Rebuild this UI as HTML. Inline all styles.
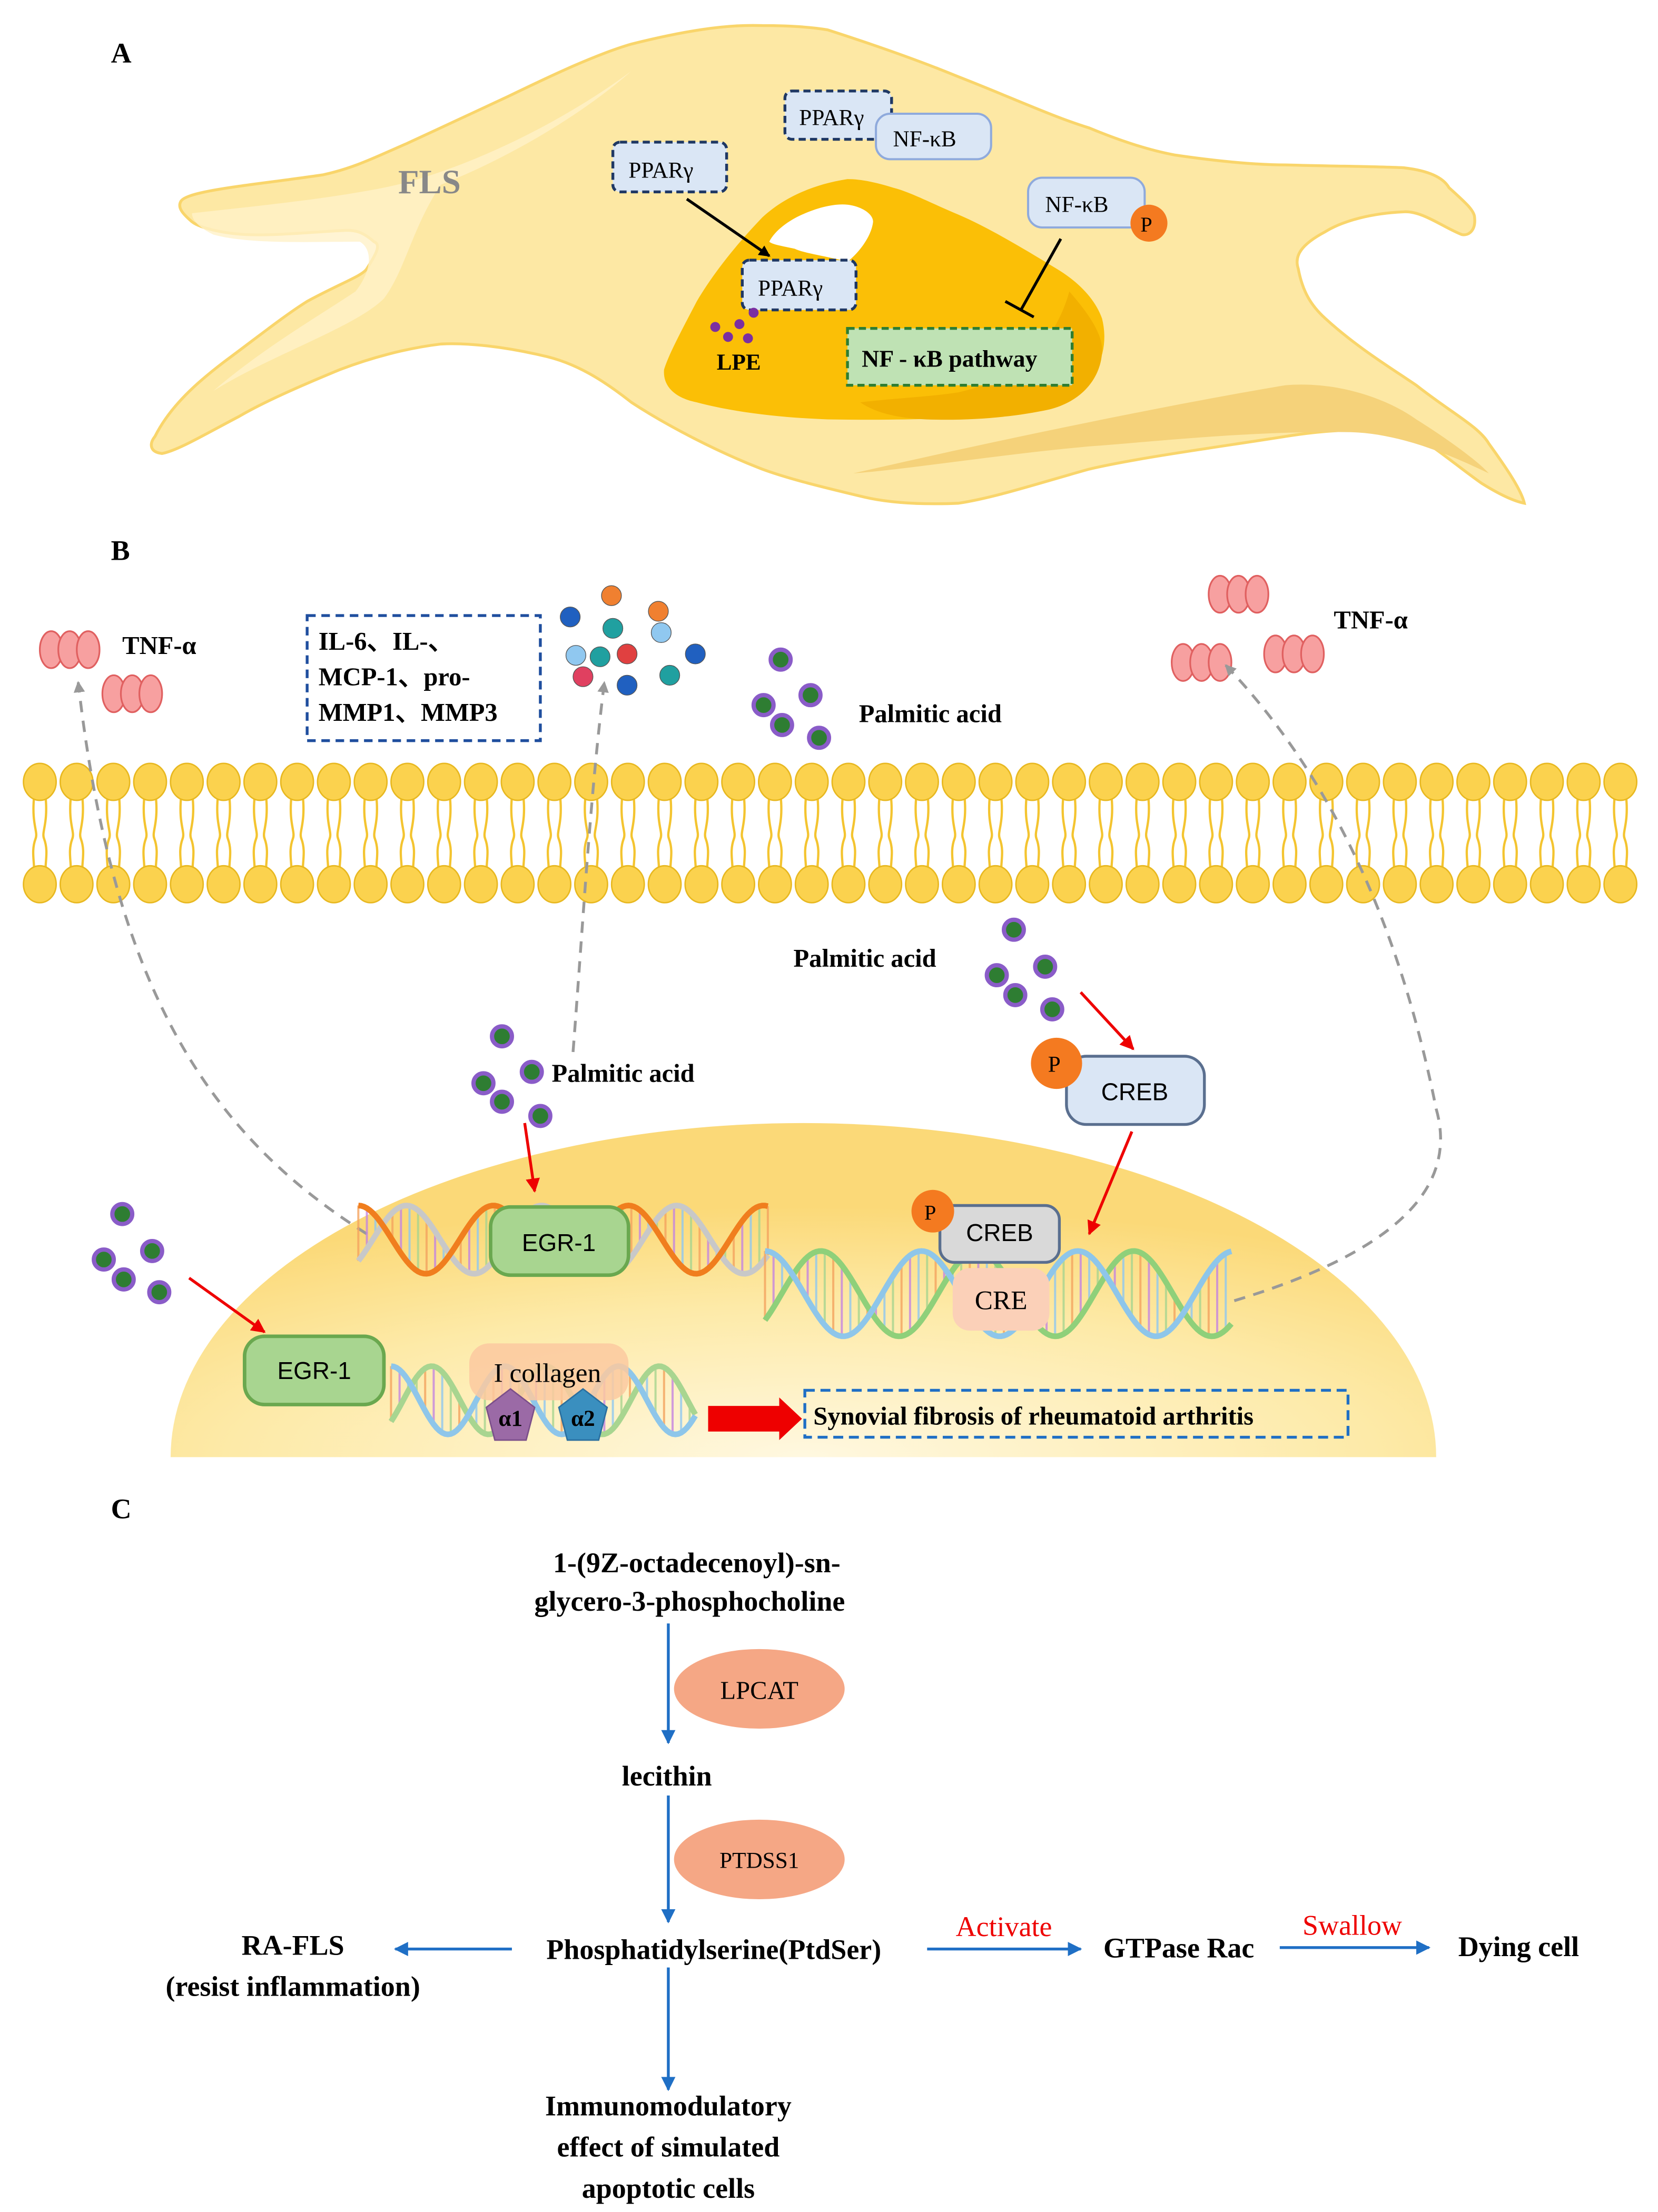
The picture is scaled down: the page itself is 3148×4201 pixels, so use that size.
<!DOCTYPE html>
<html><head><meta charset="utf-8"><style>
html,body{margin:0;padding:0;background:#fff;}
svg{display:block;}
text{font-family:"Liberation Serif",serif;}
.b{font-weight:bold;}
</style></head><body>
<svg id="s" xmlns="http://www.w3.org/2000/svg" width="3148" height="4201" viewBox="0 0 1166 1556" preserveAspectRatio="none">
<defs>
<radialGradient id="ng" cx="0.5" cy="1" r="0.75">
<stop offset="0" stop-color="#fff8e0"/><stop offset="0.6" stop-color="#fdeaa8"/><stop offset="1" stop-color="#fbd978"/>
</radialGradient>
<marker id="ab" markerWidth="8" markerHeight="8" refX="7" refY="4" orient="auto" markerUnits="userSpaceOnUse"><path d="M0,0 L8,4 L0,8 z" fill="#000"/></marker>
<marker id="ar" markerWidth="10" markerHeight="10" refX="9" refY="5" orient="auto" markerUnits="userSpaceOnUse"><path d="M0,0 L10,5 L0,10 z" fill="#e00"/></marker>
<marker id="au" markerWidth="10" markerHeight="10" refX="9" refY="5" orient="auto" markerUnits="userSpaceOnUse"><path d="M0,0 L10,5 L0,10 z" fill="#1f6fc5"/></marker>
<marker id="ag" markerWidth="8" markerHeight="8" refX="7" refY="4" orient="auto" markerUnits="userSpaceOnUse"><path d="M0,0 L8,4 L0,8 z" fill="#999"/></marker>
</defs>

<!-- Panel A -->
<text x="78" y="44" class="b" font-size="20">A</text>
<path d="M127,142 C130,134 180,130 227,123 C250,118 265,110 286,101 C310,90 335,78 357,68 C390,52 420,38 444,31 C480,22 510,17 536,18 C555,18 570,19 582,21 C610,30 645,42 674,54 C710,68 740,82 766,90 C790,100 810,106 826,109 C860,114 885,116 904,116 C940,117 965,117 987,118 C1005,120 1015,125 1019,132 C1030,142 1037,148 1037,153 C1038,162 1033,166 1028,165 C1015,160 1000,148 987,149 C965,150 945,155 932,163 C915,172 910,180 913,189 C916,205 922,215 932,224 C955,245 980,260 996,271 C1020,290 1040,300 1047,312 C1060,330 1070,345 1072,354 C1062,352 1050,345 1042,340 C1025,328 1010,315 996,307 C970,300 935,302 904,307 C860,314 800,322 766,330 C730,340 700,350 674,354 C650,355 625,354 605,349 C580,343 555,337 536,330 C505,318 470,300 444,283 C425,268 405,255 381,250 C355,244 330,241 310,242 C285,245 260,252 239,260 C210,272 185,283 168,293 C145,305 125,317 114,319 C105,318 105,312 109,307 C120,285 140,268 157,255 C180,238 200,222 216,212 C240,199 255,194 258,189 C265,178 268,172 263,170 C255,163 250,162 244,162 C220,163 195,166 173,165 C155,164 140,160 135,156 C128,150 125,146 127,142 Z" fill="#fde8a4" stroke="#f9d56b" stroke-width="2"/>
<path d="M135,150 C180,145 230,140 270,132 C320,122 390,90 444,50 C410,80 360,110 310,130 C290,160 285,190 270,210 C250,230 190,250 150,275 C185,245 220,225 250,205 C262,190 262,175 253,170 C220,170 175,172 150,165 C140,160 135,155 135,150 Z" fill="#fff1c8" opacity="0.8"/>
<path d="M600,333 C700,310 820,285 904,271 C940,268 975,280 996,295 C1020,310 1040,325 1047,333 C1020,320 985,305 950,304 C880,303 820,310 766,314 C700,320 640,330 600,333 Z" fill="#f5d27a"/>
<text x="280" y="136" class="b" font-size="24" fill="#888">FLS</text>
<path d="M596,126 C570,130 550,140 536,153 C515,175 500,195 490,212 C478,235 470,250 467,260 C466,272 475,280 490,283 C520,291 555,294 582,295 C640,296 690,294 720,290 C748,285 765,275 771,260 C777,248 778,236 775,224 C770,210 758,198 743,189 C720,175 695,160 674,151 C655,143 640,135 628,132 C615,128 605,126 596,126 Z" fill="#fbbf06"/>
<path d="M752,205 C765,220 776,235 775,248 C774,265 762,282 738,288 C710,294 680,296 651,295 C630,294 615,290 605,283 C630,280 655,279 674,276 C700,270 718,260 729,248 C740,235 748,220 752,205 Z" fill="#f2b000"/>
<path d="M596,144 C605,145 614,150 614,156 C613,166 604,178 596,184 C580,180 565,178 559,175 C550,173 543,172 541,170 C545,162 555,155 564,151 C575,146 587,143 596,144 Z" fill="#fff"/>
<rect x="552" y="64" width="75" height="34" rx="5" fill="#dae6f5" stroke="#1f3864" stroke-width="2" stroke-dasharray="5,3"/>
<text x="562" y="88" font-size="16">PPARγ</text>
<rect x="616" y="80" width="81" height="32" rx="10" fill="#dae6f5" stroke="#8faadc" stroke-width="1.5"/>
<text x="628" y="103" font-size="16">NF-κB</text>
<rect x="431" y="100" width="80" height="35" rx="5" fill="#dae6f5" stroke="#1f3864" stroke-width="2" stroke-dasharray="5,3"/>
<text x="442" y="125" font-size="16">PPARγ</text>
<line x1="483" y1="140" x2="541" y2="180" stroke="#000" stroke-width="2" marker-end="url(#ab)"/>
<rect x="522" y="183" width="80" height="35" rx="5" fill="#dae6f5" stroke="#1f3864" stroke-width="2" stroke-dasharray="5,3"/>
<text x="533" y="208" font-size="16">PPARγ</text>
<g fill="#7b2fa1"><circle cx="530" cy="220" r="3.5"/><circle cx="520" cy="228" r="3.5"/><circle cx="526" cy="238" r="3.5"/><circle cx="512" cy="237" r="3.5"/><circle cx="503" cy="230" r="3.5"/></g>
<text x="504" y="260" class="b" font-size="16">LPE</text>
<rect x="723" y="125" width="82" height="35" rx="10" fill="#dae6f5" stroke="#8faadc" stroke-width="1.5"/>
<text x="735" y="149" font-size="16">NF-κB</text>
<circle cx="808" cy="157" r="13" fill="#f47a20"/><text x="802" y="163" font-size="15">P</text>
<line x1="746" y1="168" x2="718" y2="218" stroke="#000" stroke-width="2"/>
<line x1="707" y1="212" x2="727" y2="223" stroke="#000" stroke-width="2"/>
<rect x="596" y="231" width="158" height="40" fill="#bfe2b4" stroke="#2e7d32" stroke-width="2" stroke-dasharray="5,3"/>
<text x="606" y="258" class="b" font-size="17">NF - κB pathway</text>

<!-- Panel B -->
<text x="78" y="394" class="b" font-size="20">B</text>
<g id="mem"></g>
<path d="M120,1025 A445,235 0 0 1 1010,1025 Z" fill="url(#ng)"/>
<g id="tnf"></g>
<text x="86" y="460" class="b" font-size="18">TNF-α</text>
<text x="938" y="442" class="b" font-size="18">TNF-α</text>
<rect x="216" y="433" width="164" height="88" fill="none" stroke="#1f4e9e" stroke-width="2" stroke-dasharray="6,4"/>
<text x="224" y="457" class="b" font-size="18">IL-6、IL-、</text>
<text x="224" y="482" class="b" font-size="18">MCP-1、pro-</text>
<text x="224" y="507" class="b" font-size="18">MMP1、MMP3</text>
<g stroke="#555" stroke-width="0.5">
<circle cx="430" cy="419" r="7" fill="#f08030"/><circle cx="463" cy="430" r="7" fill="#f08030"/><circle cx="401" cy="434" r="7" fill="#2060c0"/>
<circle cx="431" cy="442" r="7" fill="#20a0a0"/><circle cx="465" cy="445" r="7" fill="#90c8f0"/><circle cx="405" cy="461" r="7" fill="#90c8f0"/>
<circle cx="422" cy="462" r="7" fill="#20a0a0"/><circle cx="441" cy="460" r="7" fill="#e04040"/><circle cx="489" cy="460" r="7" fill="#2060c0"/>
<circle cx="410" cy="476" r="7" fill="#e04060"/><circle cx="441" cy="482" r="7" fill="#2060c0"/><circle cx="471" cy="475" r="7" fill="#20a0a0"/>
</g>
<g id="pa"></g>
<text x="604" y="508" class="b" font-size="18">Palmitic acid</text>
<text x="558" y="680" class="b" font-size="18">Palmitic acid</text>
<text x="388" y="761" class="b" font-size="18">Palmitic acid</text>
<g fill="none" stroke="#999" stroke-width="2" stroke-dasharray="8,6">
<path d="M258,868 C150,800 80,700 55,480" marker-end="url(#ag)"/>
<path d="M403,740 C410,650 415,560 425,480" marker-end="url(#ag)"/>
<path d="M868,915 C950,890 1030,850 1010,780 C990,680 950,560 862,468" marker-end="url(#ag)"/>
</g>
<g stroke="#e00" stroke-width="2" fill="none">
<line x1="369" y1="790" x2="376" y2="838" marker-end="url(#ar)"/>
<line x1="133" y1="899" x2="186" y2="937" marker-end="url(#ar)"/>
<line x1="760" y1="698" x2="797" y2="738" marker-end="url(#ar)"/>
<line x1="796" y1="796" x2="766" y2="868" marker-end="url(#ar)"/>
</g>
<g id="dna"></g>
<rect x="345" y="849" width="97" height="48" rx="14" fill="#a8d590" stroke="#6aa84f" stroke-width="2.5"/>
<text x="393" y="880" text-anchor="middle" font-size="17" style="font-family:'Liberation Sans',sans-serif">EGR-1</text>
<rect x="172" y="940" width="98" height="48" rx="14" fill="#a8d590" stroke="#6aa84f" stroke-width="2.5"/>
<text x="221" y="970" text-anchor="middle" font-size="17" style="font-family:'Liberation Sans',sans-serif">EGR-1</text>
<rect x="750" y="743" width="97" height="48" rx="14" fill="#dae6f5" stroke="#5a6f8f" stroke-width="2"/>
<text x="798" y="774" text-anchor="middle" font-size="17" style="font-family:'Liberation Sans',sans-serif">CREB</text>
<circle cx="743" cy="748" r="18" fill="#f47a20"/><text x="737" y="754" font-size="16">P</text>
<rect x="661" y="848" width="84" height="40" rx="10" fill="#d9d9d9" stroke="#5a6f8f" stroke-width="2"/>
<text x="703" y="873" text-anchor="middle" font-size="17" style="font-family:'Liberation Sans',sans-serif">CREB</text>
<circle cx="656" cy="852" r="15" fill="#f47a20"/><text x="650" y="858" font-size="15">P</text>
<rect x="670" y="892" width="68" height="44" rx="12" fill="#fbd0b8"/>
<text x="704" y="921" text-anchor="middle" font-size="19">CRE</text>
<rect x="330" y="945" width="112" height="40" rx="14" fill="#fbc9a0" opacity="0.85"/>
<text x="385" y="972" text-anchor="middle" font-size="19">I collagen</text>
<polygon points="359,977 376,990 370,1013 348,1013 342,990" fill="#9b6aa6" stroke="#7b4f8a"/>
<text x="359" y="1003" text-anchor="middle" class="b" font-size="16">α1</text>
<polygon points="410,977 427,990 421,1013 399,1013 393,990" fill="#3a8fbf" stroke="#2a6f9f"/>
<text x="410" y="1003" text-anchor="middle" class="b" font-size="16">α2</text>
<polygon points="498,989 548,989 548,983 564,998 548,1013 548,1007 498,1007" fill="#e00"/>
<rect x="566" y="978" width="382" height="33" fill="none" stroke="#1f6fc5" stroke-width="2" stroke-dasharray="7,4"/>
<text x="572" y="1002" class="b" font-size="18">Synovial fibrosis of rheumatoid arthritis</text>

<!-- Panel C -->
<text x="78" y="1068" class="b" font-size="20">C</text>
<g class="b" font-size="20" text-anchor="middle" style="font-weight:bold">
<text x="490" y="1106">1-(9Z-octadecenoyl)-sn-</text>
<text x="485" y="1133">glycero-3-phosphocholine</text>
<text x="469" y="1256">lecithin</text>
<text x="502" y="1378">Phosphatidylserine(PtdSer)</text>
<text x="206" y="1375">RA-FLS</text>
<text x="206" y="1404">(resist inflammation)</text>
<text x="829" y="1377">GTPase Rac</text>
<text x="1068" y="1376">Dying cell</text>
<text x="470" y="1488">Immunomodulatory</text>
<text x="470" y="1517">effect of simulated</text>
<text x="470" y="1546">apoptotic cells</text>
</g>
<ellipse cx="534" cy="1188" rx="60" ry="28" fill="#f5a785"/>
<text x="534" y="1195" text-anchor="middle" font-size="18">LPCAT</text>
<ellipse cx="534" cy="1308" rx="60" ry="28" fill="#f5a785"/>
<text x="534" y="1314" text-anchor="middle" font-size="16">PTDSS1</text>
<g stroke="#1f6fc5" stroke-width="2">
<line x1="470" y1="1142" x2="470" y2="1226" marker-end="url(#au)"/>
<line x1="470" y1="1263" x2="470" y2="1352" marker-end="url(#au)"/>
<line x1="360" y1="1371" x2="278" y2="1371" marker-end="url(#au)"/>
<line x1="652" y1="1371" x2="760" y2="1371" marker-end="url(#au)"/>
<line x1="900" y1="1370" x2="1005" y2="1370" marker-end="url(#au)"/>
<line x1="470" y1="1384" x2="470" y2="1470" marker-end="url(#au)"/>
</g>
<text x="706" y="1362" text-anchor="middle" font-size="20" fill="#e00">Activate</text>
<text x="951" y="1361" text-anchor="middle" font-size="20" fill="#e00">Swallow</text>
</svg>
<script>
var NS="http://www.w3.org/2000/svg";
function el(p,t,a){var e=document.createElementNS(NS,t);for(var k in a)e.setAttribute(k,a[k]);p.appendChild(e);return e;}
var mem=document.getElementById("mem");
for(var i=0;i<44;i++){var x=28+i*25.85;
 el(mem,"path",{d:"M"+(x-4)+",560 C"+(x-6)+",580 "+(x-1)+",585 "+(x-3)+",590 C"+(x-6)+",598 "+(x-4)+",605 "+(x-4)+",612 M"+(x+4)+",560 C"+(x+6)+",580 "+(x+1)+",585 "+(x+3)+",590 C"+(x+6)+",598 "+(x+4)+",605 "+(x+4)+",612",fill:"none",stroke:"#f4c430","stroke-width":"1.6"});
}
for(var i=0;i<44;i++){var x=28+i*25.85;
 el(mem,"ellipse",{cx:x,cy:550,rx:11.5,ry:13,fill:"#fbd24e",stroke:"#e8b820","stroke-width":"1"});
 el(mem,"ellipse",{cx:x,cy:622,rx:11.5,ry:13,fill:"#fbd24e",stroke:"#e8b820","stroke-width":"1"});
}
var tnf=document.getElementById("tnf");
function T(cx,cy){for(var j=0;j<3;j++){el(tnf,"ellipse",{cx:cx-13+j*13,cy:cy,rx:8,ry:13,fill:"#f7a0a0",stroke:"#e06060","stroke-width":"1.2"});}}
T(49,457);T(93,488);T(871,418);T(845,466);T(910,460);
var pa=document.getElementById("pa");
function D(x,y){el(pa,"circle",{cx:x,cy:y,r:7,fill:"#2e7d32",stroke:"#8a5cc8","stroke-width":"3"});}
[[549,464],[537,496],[570,489],[550,510],[576,519],[713,654],[735,680],[701,686],[714,700],[740,710],[353,729],[374,754],[340,762],[353,775],[380,785],[86,854],[107,880],[73,886],[87,900],[112,909]].forEach(function(p){D(p[0],p[1]);});
var dna=document.getElementById("dna");
function helix(x0,x1,yc,amp,per,c1,c2,rungs){
 var d1="",d2="";for(var x=x0;x<=x1;x+=2){var t=(x-x0)/per*2*Math.PI;var y1=yc-amp*Math.cos(t),y2=yc+amp*Math.cos(t+0.9);
 d1+=(x==x0?"M":"L")+x+","+y1;d2+=(x==x0?"M":"L")+x+","+y2;
 if(rungs&&(x-x0)%6==0){var cs=["#f4a460","#c586e0","#90c8f0","#a8d590"];el(dna,"line",{x1:x,y1:y1,x2:x,y2:y2,stroke:cs[((x-x0)/6)%4],"stroke-width":"1.5",opacity:"0.8"});}}
 el(dna,"path",{d:d2,fill:"none",stroke:c2,"stroke-width":"4"});
 el(dna,"path",{d:d1,fill:"none",stroke:c1,"stroke-width":"4"});
}
helix(252,540,872,24,95,"#f07e1e","#c8c8c8",true);
helix(538,866,910,30,110,"#8ec6ea","#8fd07a",true);
helix(275,490,985,24,80,"#8ec6ea","#a8d590",true);
</script>
</body></html>
